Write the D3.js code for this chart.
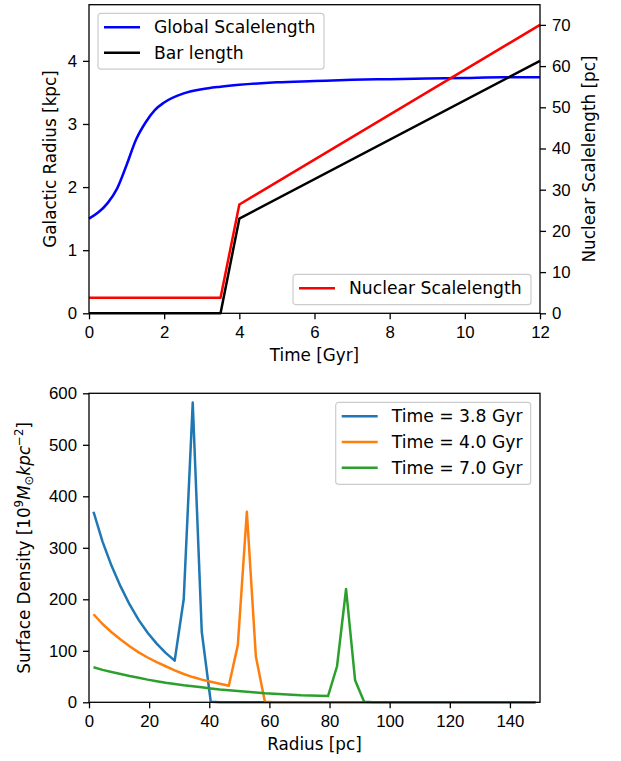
<!DOCTYPE html>
<html>
<head>
<meta charset="utf-8">
<script src="https://cdn.jsdelivr.net/npm/d3@7"></script>
<style>
  body { margin: 0; background: #fff; }
  svg { font-family: "DejaVu Sans", sans-serif; }
  .tick text { font-size: 16.8px; fill: #000; }
  .tick line, .domain { stroke: #000; }
  .axis-label { font-size: 16.8px; fill: #000; }
  .legend text { font-size: 17.2px; fill: #000; }
</style>
</head>
<body>
<svg width="621" height="761"></svg>
<script>
// top panel: time evolution
const timeGlobal = [0, 0.25, 0.5, 0.75, 1, 1.25, 1.5, 1.75, 2, 2.5, 3, 3.5, 4, 5, 6, 7, 8, 9, 10, 11, 12];
const globalScale = [1.50, 1.60, 1.75, 1.98, 2.35, 2.75, 3.02, 3.22, 3.34, 3.48, 3.55, 3.59, 3.62, 3.66, 3.68, 3.70, 3.71, 3.72, 3.73, 3.74, 3.74];
const timeBar = [0, 3.5, 4, 12];
const barLength = [0, 0, 1.5, 4.0];
const timeNuclear = [0, 3.5, 4, 12];
const nuclearScale = [3.8, 3.8, 26.4, 70.0];

const timeTicks = [0, 2, 4, 6, 8, 10, 12];
const kpcTicks = [0, 1, 2, 3, 4];
const pcTicks = [0, 10, 20, 30, 40, 50, 60, 70];

// bottom panel: surface density profiles
const radiusPc = [1.5, 4.5, 7.5, 10.5, 13.5, 16.5, 19.5, 22.5, 25.5, 28.5, 31.5, 34.5, 37.5, 40.5, 43.5, 46.5,
  49.5, 52.5, 55.5, 58.5, 61.5, 64.5, 67.5, 70.5, 73.5, 76.5, 79.5, 82.5, 85.5, 88.5, 91.5, 94.5, 148.5];
const density38 = [370, 312, 265, 225, 190, 160, 135, 114, 96, 81, 200, 582, 137, 1,
  0, 0, 0, 0, 0, 0, 0, 0, 0, 0, 0, 0, 0, 0, 0, 0, 0, 0, 0];
const density40 = [171, 152, 136, 122, 109, 97, 87, 78, 70, 62, 55, 49, 44, 40, 36, 32, 111, 370, 89, 1,
  0, 0, 0, 0, 0, 0, 0, 0, 0, 0, 0, 0, 0];
const density70 = [68, 63, 59, 55, 51, 47.5, 44, 41, 38, 35.5, 33, 31, 29, 27, 25, 23.5, 22, 20.5, 19, 17.5,
  16.5, 15.5, 14.5, 13.5, 13, 12.5, 12, 70, 220, 43, 1, 0, 0];
const profileLabels = ['Time = 3.8 Gyr', 'Time = 4.0 Gyr', 'Time = 7.0 Gyr'];
const profileColors = ['#1f77b4', '#ff7f0e', '#2ca02c'];

const radiusTicks = [0, 20, 40, 60, 80, 100, 120, 140];
const densityTicks = [0, 100, 200, 300, 400, 500, 600];

const svg = d3.select('svg');
const lw = 2.5;

const left = 89, right = 540;
const top1 = 4.7, bottom1 = 313.3;
const top2 = 393.3, bottom2 = 702.3;

const styleAxis = (g) => {
  g.selectAll('.domain').remove();
  g.selectAll('.tick line').attr('stroke-width', 1.3);
};

const legend = (x, y, w, rowH, items) => {
  const lg = svg.append('g').attr('class', 'legend').attr('transform', `translate(${x},${y})`);
  lg.append('rect')
    .attr('width', w).attr('height', rowH * items.length + 5)
    .attr('rx', 3)
    .attr('fill', 'rgba(255,255,255,0.8)')
    .attr('stroke', '#cccccc').attr('stroke-width', 1.2);
  items.forEach((it, i) => {
    const cy = 14 + i * rowH;
    lg.append('line')
      .attr('x1', 6).attr('x2', 42).attr('y1', cy).attr('y2', cy)
      .attr('stroke', it.color).attr('stroke-width', lw);
    lg.append('text')
      .attr('x', 56).attr('y', cy)
      .attr('dy', '0.36em')
      .text(it.label);
  });
};

const fmt = d3.format('d');

// ---------- top panel ----------
const xTime = d3.scaleLinear().domain([0, 12]).range([left, right]);
const yKpc = d3.scaleLinear().domain([0, 4.89]).range([bottom1, top1]);
const yPc = d3.scaleLinear().domain([0, 74.9]).range([bottom1, top1]);

const lineKpc = (xs, ys, curve) => d3.line()
  .x((d, i) => xTime(xs[i]))
  .y(d => yKpc(d))
  .curve(curve)(ys);

svg.append('path')
  .attr('d', lineKpc(timeGlobal, globalScale, d3.curveMonotoneX))
  .attr('fill', 'none').attr('stroke', 'blue').attr('stroke-width', lw);

svg.append('path')
  .attr('d', lineKpc(timeBar, barLength, d3.curveLinear))
  .attr('fill', 'none').attr('stroke', 'black').attr('stroke-width', lw)
  .attr('stroke-linejoin', 'round');

svg.append('path')
  .attr('d', d3.line()
    .x((d, i) => xTime(timeNuclear[i]))
    .y(d => yPc(d))(nuclearScale))
  .attr('fill', 'none').attr('stroke', 'red').attr('stroke-width', lw)
  .attr('stroke-linejoin', 'round');

svg.append('g')
  .attr('transform', `translate(0,${bottom1})`)
  .call(d3.axisBottom(xTime).tickValues(timeTicks).tickFormat(fmt).tickSize(6).tickPadding(7))
  .call(styleAxis);

svg.append('g')
  .attr('transform', `translate(${left},0)`)
  .call(d3.axisLeft(yKpc).tickValues(kpcTicks).tickFormat(fmt).tickSize(6).tickPadding(6))
  .call(styleAxis);

svg.append('g')
  .attr('transform', `translate(${right},0)`)
  .call(d3.axisRight(yPc).tickValues(pcTicks).tickFormat(fmt).tickSize(6).tickPadding(6))
  .call(styleAxis);

svg.append('rect')
  .attr('x', left).attr('y', top1)
  .attr('width', right - left).attr('height', bottom1 - top1)
  .attr('fill', 'none').attr('stroke', '#000').attr('stroke-width', 1.3);

svg.append('text').attr('class', 'axis-label')
  .attr('x', (left + right) / 2).attr('y', 361)
  .attr('text-anchor', 'middle')
  .text('Time [Gyr]');

svg.append('text').attr('class', 'axis-label')
  .attr('transform', `translate(56,${(top1 + bottom1) / 2}) rotate(-90)`)
  .attr('text-anchor', 'middle')
  .text('Galactic Radius [kpc]');

svg.append('text').attr('class', 'axis-label')
  .attr('transform', `translate(594.5,${(top1 + bottom1) / 2}) rotate(-90)`)
  .attr('text-anchor', 'middle')
  .text('Nuclear Scalelength [pc]');

legend(98, 13.3, 226, 25.4, [
  {label: 'Global Scalelength', color: 'blue'},
  {label: 'Bar length', color: 'black'}
]);
legend(293, 274.3, 238, 25.4, [
  {label: 'Nuclear Scalelength', color: 'red'}
]);

// ---------- bottom panel ----------
const xRad = d3.scaleLinear().domain([0, 150]).range([left, right]);
const yDen = d3.scaleLinear().domain([0, 600]).range([bottom2, top2]);

[density38, density40, density70].forEach((series, k) => {
  svg.append('path')
    .attr('d', d3.line()
      .x((d, i) => xRad(radiusPc[i]))
      .y(d => yDen(d))(series))
    .attr('fill', 'none')
    .attr('stroke', profileColors[k])
    .attr('stroke-width', lw)
    .attr('stroke-linejoin', 'round');
});

svg.append('g')
  .attr('transform', `translate(0,${bottom2})`)
  .call(d3.axisBottom(xRad).tickValues(radiusTicks).tickFormat(fmt).tickSize(6).tickPadding(7))
  .call(styleAxis);

svg.append('g')
  .attr('transform', `translate(${left},0)`)
  .call(d3.axisLeft(yDen).tickValues(densityTicks).tickFormat(fmt).tickSize(6).tickPadding(6))
  .call(styleAxis);

svg.append('rect')
  .attr('x', left).attr('y', top2)
  .attr('width', right - left).attr('height', bottom2 - top2)
  .attr('fill', 'none').attr('stroke', '#000').attr('stroke-width', 1.3);

svg.append('text').attr('class', 'axis-label')
  .attr('x', (left + right) / 2).attr('y', 750)
  .attr('text-anchor', 'middle')
  .text('Radius [pc]');

const dLabel = svg.append('text').attr('class', 'axis-label')
  .attr('transform', `translate(29.5,${(top2 + bottom2) / 2}) rotate(-90)`)
  .attr('text-anchor', 'middle');
dLabel.append('tspan').text('Surface Density [10');
dLabel.append('tspan').attr('dy', -7).attr('font-size', '11.8px').text('9');
dLabel.append('tspan').attr('dy', 7).attr('font-style', 'italic').text('M');
dLabel.append('tspan').attr('dy', 3).attr('font-size', '11.8px').text('\u2299');
dLabel.append('tspan').attr('dy', -3).attr('font-style', 'italic').text('kpc');
dLabel.append('tspan').attr('dy', -7).attr('font-size', '11.8px').text('\u22122');
dLabel.append('tspan').attr('dy', 7).text(']');

legend(335.7, 402.3, 195, 25.7, profileLabels.map((label, i) => ({label, color: profileColors[i]})));
</script>
</body>
</html>
